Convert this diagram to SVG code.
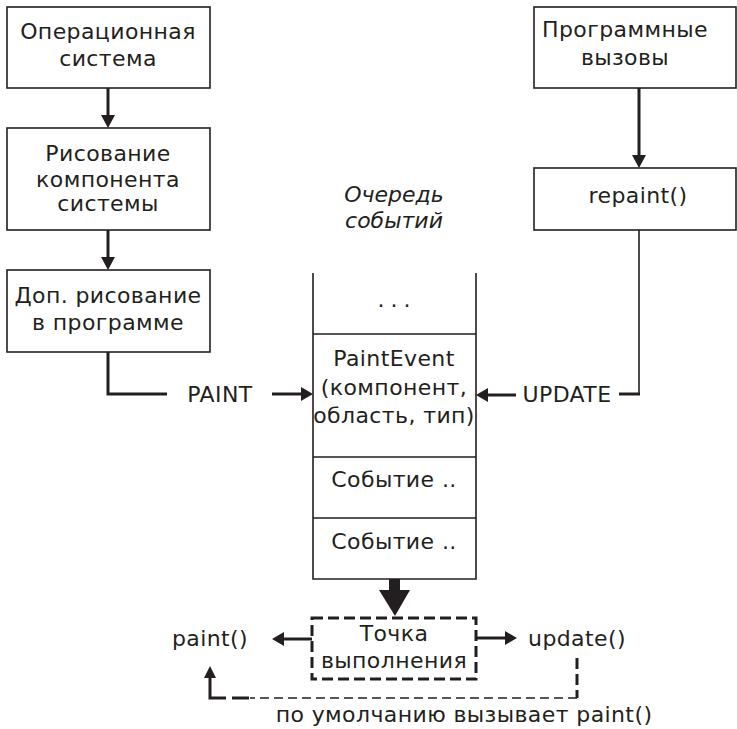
<svg xmlns="http://www.w3.org/2000/svg" width="737" height="729" viewBox="0 0 737 729">
  <style>
    .box { fill: #fff; stroke: #231f20; stroke-width: 1.6; }
    .t { font-family: "DejaVu Sans", Verdana, sans-serif; font-size: 22px; letter-spacing: 0.4px; fill: #231f20; text-anchor: middle; }
    .ti { font-style: italic; letter-spacing: 0; }
    .thick { fill: none; stroke: #231f20; stroke-width: 3; }
    .thin { fill: none; stroke: #231f20; stroke-width: 1.6; }
    .dash { fill: none; stroke: #231f20; stroke-width: 3; stroke-dasharray: 11 5; }
    .dashthin { fill: none; stroke: #231f20; stroke-width: 1.6; stroke-dasharray: 9 5; }
    .head { fill: #231f20; }
  </style>

  <!-- left column -->
  <g id="os">
    <rect class="box" x="7" y="7" width="203" height="81"/>
    <text class="t" x="108" y="39">Операционная</text>
    <text class="t" x="108" y="66">система</text>
  </g>
  <g id="sys-paint">
    <rect class="box" x="7" y="128" width="203" height="102"/>
    <text class="t" x="108" y="161">Рисование</text>
    <text class="t" x="108" y="187">компонента</text>
    <text class="t" x="108" y="211">системы</text>
  </g>
  <g id="app-paint">
    <rect class="box" x="7" y="270" width="203" height="82"/>
    <text class="t" x="108" y="303">Доп. рисование</text>
    <text class="t" x="108" y="330">в программе</text>
  </g>

  <!-- right column -->
  <g id="calls">
    <rect class="box" x="534" y="7" width="202" height="81"/>
    <text class="t" x="625" y="37">Программные</text>
    <text class="t" x="625" y="65">вызовы</text>
  </g>
  <g id="repaint">
    <rect class="box" x="534" y="168" width="202" height="62"/>
    <text class="t" x="638" y="203">repaint()</text>
  </g>

  <!-- event queue -->
  <g id="queue">
    <text class="t ti" x="394" y="202">Очередь</text>
    <text class="t ti" x="394" y="228">событий</text>
    <path class="thin" d="M313 273 V579 H476 V273"/>
    <path class="thin" d="M313 334 H476 M313 457 H476 M313 518 H476"/>
    <text class="t" x="397" y="307" style="letter-spacing:6px">...</text>
    <text class="t" x="394" y="366">PaintEvent</text>
    <text class="t" x="394" y="395">(компонент,</text>
    <text class="t" x="394" y="423">область, тип)</text>
    <text class="t" x="394" y="487">Событие ..</text>
    <text class="t" x="394" y="549">Событие ..</text>
  </g>

  <!-- dispatch point -->
  <g id="dispatch">
    <rect class="dash" x="312" y="618" width="164" height="61"/>
    <text class="t" x="394" y="641">Точка</text>
    <text class="t" x="394" y="668">выполнения</text>
  </g>
  <g id="paint-call">
    <text class="t" x="210" y="646">paint()</text>
  </g>
  <g id="update-call">
    <text class="t" x="577" y="646">update()</text>
  </g>

  <!-- connectors -->
  <g id="connectors">
    <line class="thick" x1="108" y1="88" x2="108" y2="116"/>
    <polygon class="head" points="101,115 115,115 108,128"/>
    <line class="thick" x1="108" y1="230" x2="108" y2="258"/>
    <polygon class="head" points="101,257 115,257 108,270"/>
    <line class="thick" x1="639" y1="88" x2="639" y2="156"/>
    <polygon class="head" points="632,155 646,155 639,168"/>

    <!-- PAINT -->
    <path class="thick" d="M108 352 V394 H167"/>
    <text class="t" x="220" y="402">PAINT</text>
    <line class="thick" x1="272" y1="394" x2="302" y2="394"/>
    <polygon class="head" points="301,387 301,401 313,394"/>

    <!-- UPDATE -->
    <path class="thin" d="M639 230 V394"/>
    <path class="thick" d="M619 394 H640"/>
    <text class="t" x="567" y="402">UPDATE</text>
    <line class="thick" x1="516" y1="395" x2="487" y2="395"/>
    <polygon class="head" points="488,388 488,402 476,395"/>

    <!-- queue to dispatch -->
    <rect class="head" x="389" y="579" width="11" height="12"/>
    <polygon class="head" points="379,590 410,590 395,616"/>

    <!-- dispatch to paint()/update() -->
    <line class="thick" x1="312" y1="639" x2="283" y2="639"/>
    <polygon class="head" points="284,632 284,646 272,639"/>
    <line class="thick" x1="476" y1="638" x2="506" y2="638"/>
    <polygon class="head" points="505,631 505,645 517,638"/>

    <!-- default path -->
    <path class="dash" d="M577 658 V698"/>
    <path class="dashthin" d="M577 698 H250"/>
    <path class="thick" d="M249 698 H232 M226 698 H210 V677"/>
    <polygon class="head" points="204,678 216,678 210,666"/>
    <text class="t" x="464" y="722">по умолчанию вызывает paint()</text>
  </g>
</svg>
